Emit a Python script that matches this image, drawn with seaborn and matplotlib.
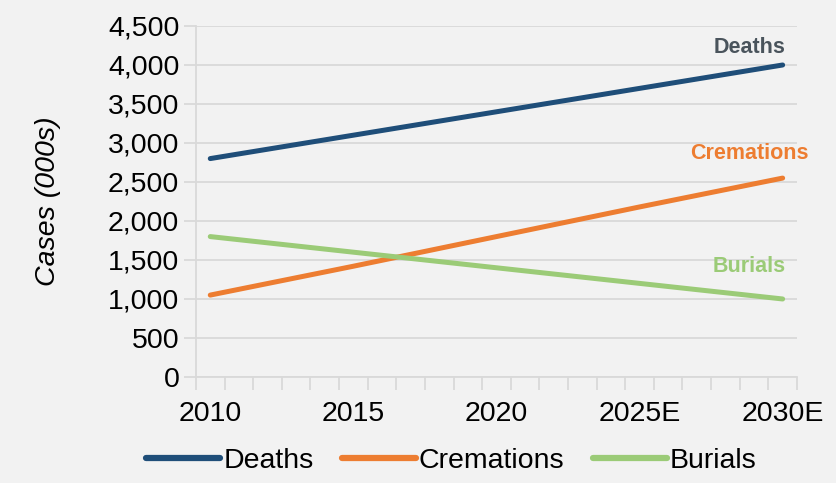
import numpy as np
import pandas as pd
import matplotlib
matplotlib.use("Agg")
import matplotlib.pyplot as plt
import seaborn as sns
from matplotlib.ticker import FuncFormatter, MultipleLocator

# data (values in thousands)
years = ["2010", "2015", "2020", "2025E", "2030E"]
year_pos = [0, 5, 10, 15, 20]          # category index, one category per year
deaths = [2800, 3100, 3400, 3700, 4000]
cremations = [1050, 1420, 1800, 2180, 2550]
burials = [1800, 1600, 1400, 1200, 1000]

series = ["Deaths", "Cremations", "Burials"]
colors = {"Deaths": "#1f4e79", "Cremations": "#ed7d31", "Burials": "#9bcb77"}
label_colors = {"Deaths": "#4a545c", "Cremations": "#ed7d31", "Burials": "#9bcb77"}

df = pd.DataFrame({
    "pos": year_pos * 3,
    "value": deaths + cremations + burials,
    "series": np.repeat(series, len(years)),
})

BG = "#f2f2f2"
GRID = "#d9d9d9"
FS = 20.5

sns.set_theme(style="white")
plt.rcParams["font.family"] = ["Liberation Sans", "DejaVu Sans"]

fig = plt.figure(figsize=(8.36, 4.83), dpi=100, facecolor=BG)
ax = fig.add_axes([0.2344, 0.2195, 0.7189, 0.7267], facecolor=BG)

sns.lineplot(data=df, x="pos", y="value", hue="series", hue_order=series,
             palette=colors, linewidth=3.6, ax=ax, legend=False,
             solid_capstyle="round")

ax.set_xlim(-0.5, 20.5)
ax.set_ylim(0, 4500)
ax.yaxis.set_major_locator(MultipleLocator(500))
ax.yaxis.set_major_formatter(FuncFormatter(lambda v, p: f"{int(v):,}"))
ax.grid(axis="y", color=GRID, linewidth=1.3)
ax.set_axisbelow(True)

ax.set_xticks(year_pos)
ax.set_xticklabels(years)
ax.set_xticks(np.arange(-0.5, 21, 1), minor=True)
ax.tick_params(axis="x", which="major", length=0, labelsize=FS, pad=17,
               labelcolor="black")
ax.tick_params(axis="x", which="minor", length=9, width=1.3, color=GRID,
               direction="out", bottom=True)
ax.tick_params(axis="y", which="major", length=9, width=1.3, color=GRID,
               left=True, labelsize=FS, pad=3, labelcolor="black")

for side in ["top", "right"]:
    ax.spines[side].set_visible(False)
for side in ["left", "bottom"]:
    ax.spines[side].set_color(GRID)
    ax.spines[side].set_linewidth(1.3)

ax.set_xlabel("")
ax.set_ylabel("Cases (000s)", fontsize=FS, style="italic", labelpad=34,
              color="black")

# series name labels near the right end
end_labels = {"Deaths": (20.1, 4220), "Cremations": (20.9, 2860), "Burials": (20.1, 1420)}
for name in series:
    x, y = end_labels[name]
    ax.text(x, y, name, color=label_colors[name], fontsize=15.5,
            fontweight="bold", ha="right", va="center")

# legend at the bottom
handles = [plt.Line2D([], [], color=colors[s], linewidth=4.5,
                      solid_capstyle="round") for s in series]
fig.legend(handles, series, loc="center", bbox_to_anchor=(0.54, 0.045),
           ncol=3, frameon=False, fontsize=FS, handlelength=2.6,
           handletextpad=0.1, columnspacing=1.0, labelcolor="black")

fig.savefig("out.png", dpi=100, facecolor=BG)
